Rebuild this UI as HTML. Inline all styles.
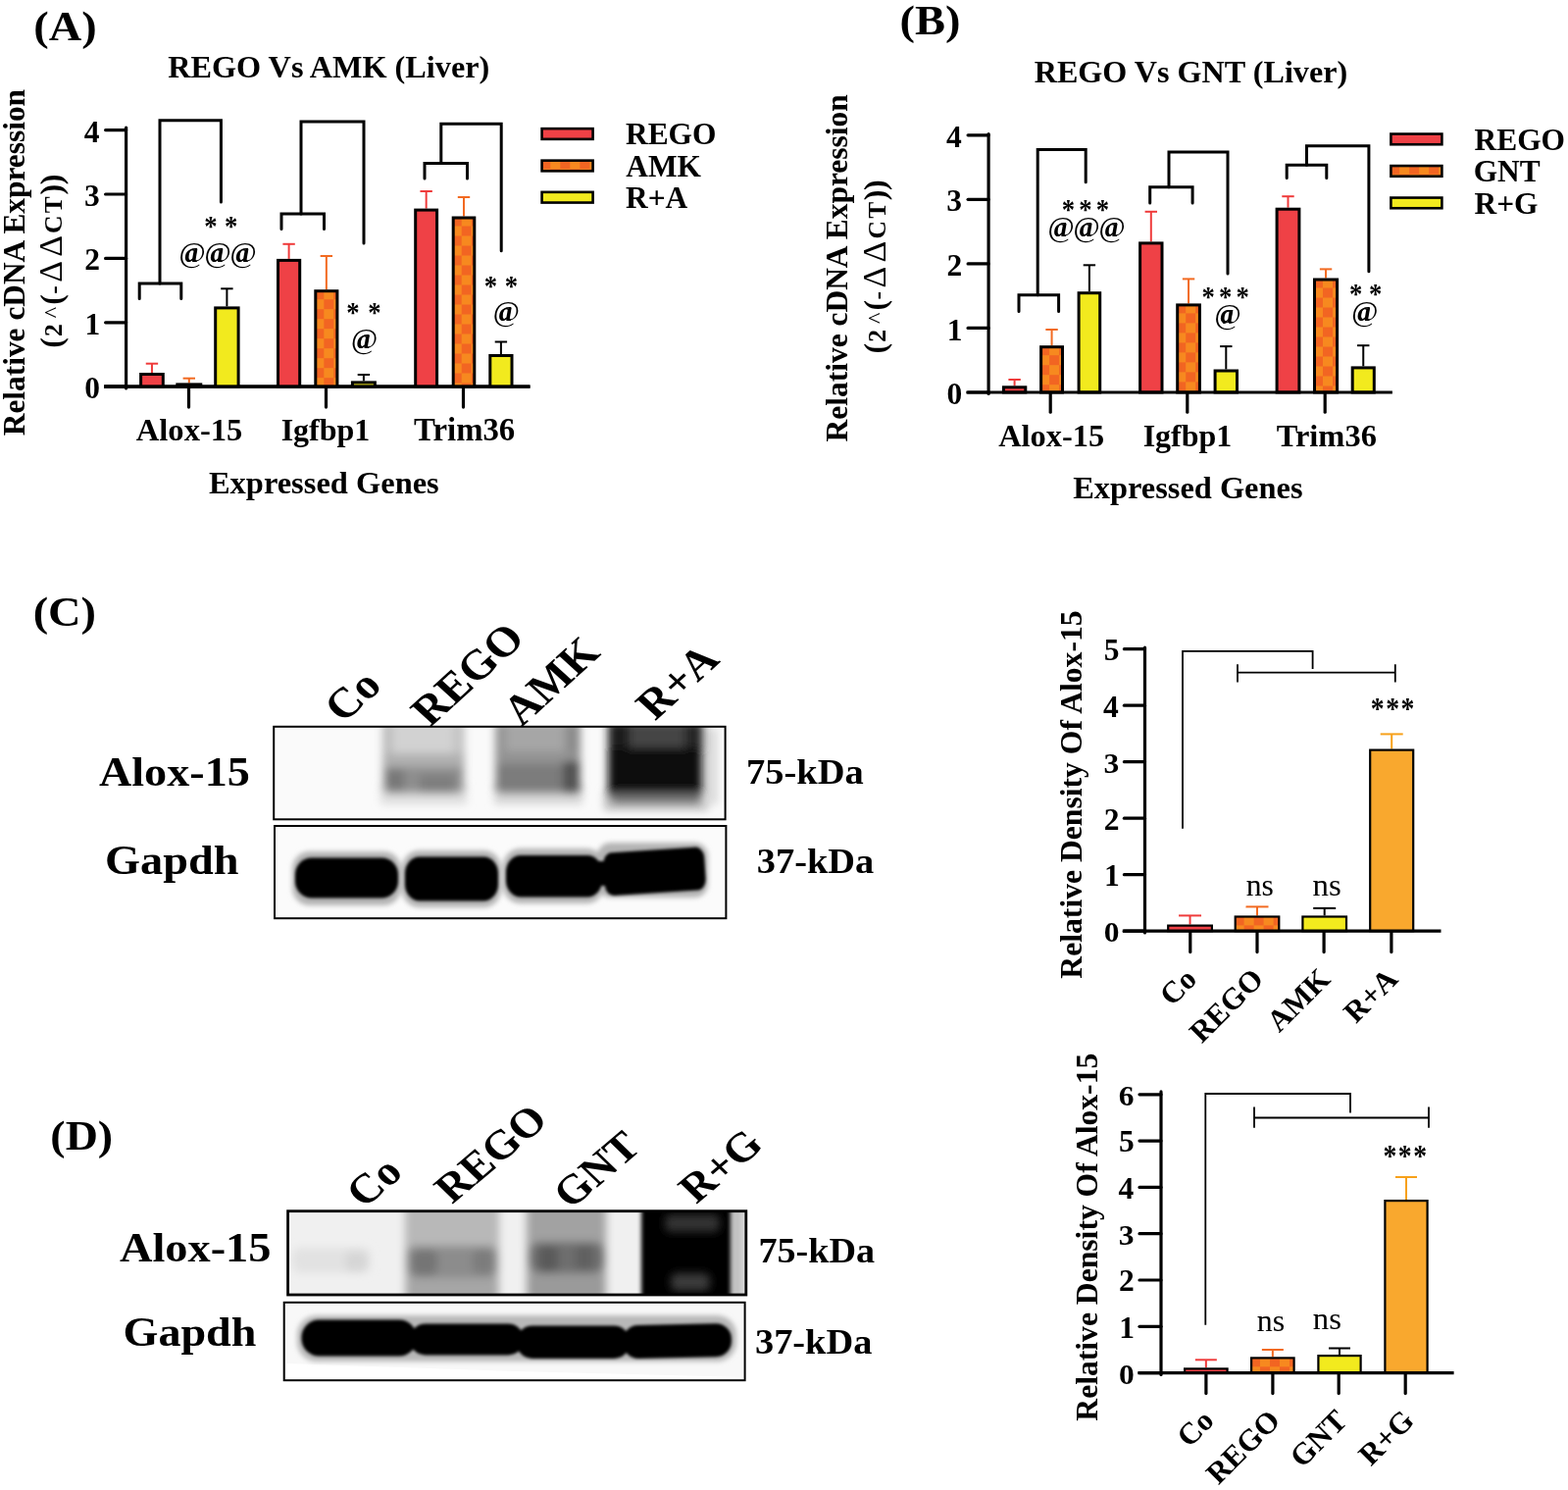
<!DOCTYPE html>
<html><head><meta charset="utf-8"><title>Figure</title>
<style>
html,body{margin:0;padding:0;background:#fff;}
svg{display:block;}
text{font-family:"Liberation Serif","Times New Roman",serif;}
</style></head><body>
<svg width="1599" height="1519" viewBox="0 0 1599 1519">
<defs>
<pattern id="chk" x="0" y="0" width="20" height="20" patternUnits="userSpaceOnUse"><rect width="20" height="20" fill="#f7891f"/><rect width="10" height="10" fill="#f26522"/><rect x="10" y="10" width="10" height="10" fill="#f26522"/></pattern>
<filter id="b0" x="-30%" y="-30%" width="160%" height="160%"><feGaussianBlur stdDeviation="2.0"/></filter>
<filter id="b1" x="-30%" y="-30%" width="160%" height="160%"><feGaussianBlur stdDeviation="2.8"/></filter>
<filter id="b2" x="-30%" y="-30%" width="160%" height="160%"><feGaussianBlur stdDeviation="4.0"/></filter>
<filter id="b3" x="-30%" y="-30%" width="160%" height="160%"><feGaussianBlur stdDeviation="1.4"/></filter>
<filter id="b4" x="-30%" y="-30%" width="160%" height="160%"><feGaussianBlur stdDeviation="4.5"/></filter>
</defs>
<rect width="1599" height="1519" fill="#fff"/>
<line x1="128.60" y1="130.20" x2="128.60" y2="396.00" stroke="#000" stroke-width="3.20" stroke-linecap="round"/>
<line x1="107.60" y1="394.20" x2="128.60" y2="394.20" stroke="#000" stroke-width="3.20" stroke-linecap="round"/>
<line x1="107.60" y1="328.80" x2="128.60" y2="328.80" stroke="#000" stroke-width="3.20" stroke-linecap="round"/>
<line x1="107.60" y1="263.40" x2="128.60" y2="263.40" stroke="#000" stroke-width="3.20" stroke-linecap="round"/>
<line x1="107.60" y1="198.00" x2="128.60" y2="198.00" stroke="#000" stroke-width="3.20" stroke-linecap="round"/>
<line x1="107.60" y1="132.60" x2="128.60" y2="132.60" stroke="#000" stroke-width="3.20" stroke-linecap="round"/>
<line x1="106.00" y1="394.20" x2="540.50" y2="394.20" stroke="#000" stroke-width="3.20" stroke-linecap="butt"/>
<line x1="192.50" y1="394.20" x2="192.50" y2="415.10" stroke="#000" stroke-width="3.20" stroke-linecap="round"/>
<line x1="332.50" y1="394.20" x2="332.50" y2="415.10" stroke="#000" stroke-width="3.20" stroke-linecap="round"/>
<line x1="472.50" y1="394.20" x2="472.50" y2="415.10" stroke="#000" stroke-width="3.20" stroke-linecap="round"/>
<text transform="translate(86.31,405.89) scale(1.0245,1)" font-size="30.75" font-weight="bold" fill="#000">0</text>
<text transform="translate(86.62,340.80) scale(0.9939,1)" font-size="31.69" font-weight="bold" fill="#000">1</text>
<text transform="translate(86.31,275.40) scale(1.0092,1)" font-size="31.21" font-weight="bold" fill="#000">2</text>
<text transform="translate(85.99,209.69) scale(1.0245,1)" font-size="30.75" font-weight="bold" fill="#000">3</text>
<text transform="translate(85.68,144.60) scale(0.9939,1)" font-size="31.69" font-weight="bold" fill="#000">4</text>
<line x1="154.95" y1="380.00" x2="154.95" y2="370.70" stroke="#ef3b3b" stroke-width="2.00" stroke-linecap="butt"/>
<line x1="148.75" y1="370.70" x2="161.15" y2="370.70" stroke="#ef3b3b" stroke-width="2.00" stroke-linecap="butt"/>
<line x1="192.80" y1="390.40" x2="192.80" y2="385.70" stroke="#f26a21" stroke-width="2.00" stroke-linecap="butt"/>
<line x1="186.60" y1="385.70" x2="199.00" y2="385.70" stroke="#f26a21" stroke-width="2.00" stroke-linecap="butt"/>
<line x1="231.40" y1="312.40" x2="231.40" y2="294.30" stroke="#000" stroke-width="2.00" stroke-linecap="butt"/>
<line x1="225.20" y1="294.30" x2="237.60" y2="294.30" stroke="#000" stroke-width="2.00" stroke-linecap="butt"/>
<line x1="294.60" y1="263.90" x2="294.60" y2="248.80" stroke="#ef3b3b" stroke-width="2.00" stroke-linecap="butt"/>
<line x1="288.40" y1="248.80" x2="300.80" y2="248.80" stroke="#ef3b3b" stroke-width="2.00" stroke-linecap="butt"/>
<line x1="332.85" y1="295.20" x2="332.85" y2="261.00" stroke="#f26a21" stroke-width="2.00" stroke-linecap="butt"/>
<line x1="326.65" y1="261.00" x2="339.05" y2="261.00" stroke="#f26a21" stroke-width="2.00" stroke-linecap="butt"/>
<line x1="370.90" y1="388.40" x2="370.90" y2="382.00" stroke="#000" stroke-width="2.00" stroke-linecap="butt"/>
<line x1="364.70" y1="382.00" x2="377.10" y2="382.00" stroke="#000" stroke-width="2.00" stroke-linecap="butt"/>
<line x1="434.65" y1="212.60" x2="434.65" y2="195.00" stroke="#ef3b3b" stroke-width="2.00" stroke-linecap="butt"/>
<line x1="428.45" y1="195.00" x2="440.85" y2="195.00" stroke="#ef3b3b" stroke-width="2.00" stroke-linecap="butt"/>
<line x1="473.00" y1="220.50" x2="473.00" y2="201.00" stroke="#f26a21" stroke-width="2.00" stroke-linecap="butt"/>
<line x1="466.80" y1="201.00" x2="479.20" y2="201.00" stroke="#f26a21" stroke-width="2.00" stroke-linecap="butt"/>
<line x1="510.90" y1="361.00" x2="510.90" y2="348.50" stroke="#000" stroke-width="2.00" stroke-linecap="butt"/>
<line x1="504.70" y1="348.50" x2="517.10" y2="348.50" stroke="#000" stroke-width="2.00" stroke-linecap="butt"/>
<rect x="143.60" y="381.50" width="22.70" height="12.70" fill="#ef4146" stroke="#000" stroke-width="3.00"/>
<pattern id="ck1" x="179.30" y="390.40" width="20" height="20" patternUnits="userSpaceOnUse"><rect width="20" height="20" fill="#f7891f"/><rect width="10" height="10" fill="#f26522"/><rect x="10" y="10" width="10" height="10" fill="#f26522"/></pattern>
<rect x="180.80" y="391.90" width="24.00" height="2.30" fill="url(#ck1)" stroke="#000" stroke-width="3.00"/>
<rect x="219.70" y="313.90" width="23.40" height="80.30" fill="#f2ea1e" stroke="#000" stroke-width="3.00"/>
<rect x="283.50" y="265.40" width="22.20" height="128.80" fill="#ef4146" stroke="#000" stroke-width="3.00"/>
<pattern id="ck2" x="320.30" y="295.20" width="20" height="20" patternUnits="userSpaceOnUse"><rect width="20" height="20" fill="#f7891f"/><rect width="10" height="10" fill="#f26522"/><rect x="10" y="10" width="10" height="10" fill="#f26522"/></pattern>
<rect x="321.80" y="296.70" width="22.10" height="97.50" fill="url(#ck2)" stroke="#000" stroke-width="3.00"/>
<rect x="359.40" y="389.90" width="23.00" height="4.30" fill="#f2ea1e" stroke="#000" stroke-width="3.00"/>
<rect x="423.70" y="214.10" width="21.90" height="180.10" fill="#ef4146" stroke="#000" stroke-width="3.00"/>
<pattern id="ck3" x="460.70" y="220.50" width="20" height="20" patternUnits="userSpaceOnUse"><rect width="20" height="20" fill="#f7891f"/><rect width="10" height="10" fill="#f26522"/><rect x="10" y="10" width="10" height="10" fill="#f26522"/></pattern>
<rect x="462.20" y="222.00" width="21.60" height="172.20" fill="url(#ck3)" stroke="#000" stroke-width="3.00"/>
<rect x="499.80" y="362.50" width="22.20" height="31.70" fill="#f2ea1e" stroke="#000" stroke-width="3.00"/>
<line x1="106.00" y1="394.20" x2="540.50" y2="394.20" stroke="#000" stroke-width="3.20" stroke-linecap="butt"/>
<path d="M142.2,304.5 V289.0 H184.8 V304.5" fill="none" stroke="#000" stroke-width="3.00" stroke-linecap="round" stroke-linejoin="miter"/>
<path d="M163.0,289.0 V122.7 H225.4 V206.0" fill="none" stroke="#000" stroke-width="3.00" stroke-linecap="round" stroke-linejoin="miter"/>
<path d="M287.0,233.5 V218.0 H330.5 V233.5" fill="none" stroke="#000" stroke-width="3.00" stroke-linecap="round" stroke-linejoin="miter"/>
<path d="M307.0,218.0 V124.0 H371.0 V247.9" fill="none" stroke="#000" stroke-width="3.00" stroke-linecap="round" stroke-linejoin="miter"/>
<path d="M433.0,181.9 V166.5 H476.5 V181.9" fill="none" stroke="#000" stroke-width="3.00" stroke-linecap="round" stroke-linejoin="miter"/>
<path d="M449.8,166.5 V126.3 H511.2 V255.7" fill="none" stroke="#000" stroke-width="3.00" stroke-linecap="round" stroke-linejoin="miter"/>
<text transform="translate(0,240.46) scale(0.9048,1)" font-size="29.47" font-weight="bold"><tspan x="230.26">*</tspan><tspan x="253.03">*</tspan></text>
<text y="267.00" font-size="29.50"><tspan x="182.40">@</tspan><tspan x="208.40">@</tspan><tspan x="234.40">@</tspan></text>
<text y="266.60" font-size="27.00" font-weight="bold" font-style="italic" text-anchor="middle"><tspan x="195.20">a</tspan><tspan x="221.20">a</tspan><tspan x="247.20">a</tspan></text>
<text transform="translate(0,328.16) scale(0.9048,1)" font-size="29.47" font-weight="bold"><tspan x="390.53">*</tspan><tspan x="414.62">*</tspan></text>
<text y="355.00" font-size="29.50"><tspan x="357.90">@</tspan></text>
<text y="354.60" font-size="27.00" font-weight="bold" font-style="italic" text-anchor="middle"><tspan x="370.70">a</tspan></text>
<text transform="translate(0,301.16) scale(0.9048,1)" font-size="29.47" font-weight="bold"><tspan x="545.82">*</tspan><tspan x="568.92">*</tspan></text>
<text y="326.90" font-size="29.50"><tspan x="502.70">@</tspan></text>
<text y="326.50" font-size="27.00" font-weight="bold" font-style="italic" text-anchor="middle"><tspan x="515.50">a</tspan></text>
<rect x="552.60" y="131.15" width="52.00" height="10.70" fill="#ef4146" stroke="#000" stroke-width="2.6"/>
<text x="637.97" y="147.20" font-size="31.40" font-weight="bold" fill="#000">REGO</text>
<pattern id="ck4" x="551.30" y="162.35" width="20" height="20" patternUnits="userSpaceOnUse"><rect width="20" height="20" fill="#f7891f"/><rect width="10" height="10" fill="#f26522"/><rect x="10" y="10" width="10" height="10" fill="#f26522"/></pattern>
<rect x="552.60" y="163.65" width="52.00" height="10.70" fill="url(#ck4)" stroke="#000" stroke-width="2.6"/>
<text x="638.29" y="179.70" font-size="31.40" font-weight="bold" fill="#000">AMK</text>
<rect x="552.60" y="195.85" width="52.00" height="10.70" fill="#f2ea1e" stroke="#000" stroke-width="2.6"/>
<text x="637.97" y="211.90" font-size="31.40" font-weight="bold" fill="#000">R+A</text>
<text transform="translate(34.24,40.70) scale(1.0921,1)" font-size="42.50" font-weight="bold" fill="#000">(A)</text>
<text x="171.16" y="79.30" font-size="32.25" font-weight="bold" fill="#000">REGO Vs AMK (Liver)</text>
<text x="138.77" y="449.30" font-size="32.59" font-weight="bold" fill="#000">Alox-15</text>
<text x="286.64" y="449.30" font-size="32.00" font-weight="bold" fill="#000">Igfbp1</text>
<text x="422.07" y="449.30" font-size="32.77" font-weight="bold" fill="#000">Trim36</text>
<text x="212.95" y="503.40" font-size="32.48" font-weight="bold" fill="#000">Expressed Genes</text>
<text transform="translate(25.20,444.23) rotate(-90)" font-size="31.38" font-weight="bold">Relative cDNA Expression</text>
<text transform="translate(62.60,0) rotate(-90)"><tspan x="-354.79" y="0.00" font-size="32.00" font-weight="bold">(</tspan><tspan x="-343.02" y="0.00" font-size="25.50" font-weight="bold">2</tspan><tspan x="-324.19" y="-2.00" font-size="24.00" font-weight="normal">^</tspan><tspan x="-310.84" y="0.00" font-size="32.00" font-weight="bold">(</tspan><tspan x="-299.78" y="0.00" font-size="25.50" font-weight="bold">-</tspan><tspan x="-287.70" y="0.00" font-size="34.00" font-weight="normal">Δ</tspan><tspan x="-261.85" y="0.00" font-size="34.00" font-weight="normal">Δ</tspan><tspan x="-237.93" y="0.00" font-size="25.50" font-weight="bold">C</tspan><tspan x="-217.16" y="0.00" font-size="25.50" font-weight="bold">T</tspan><tspan x="-198.52" y="0.00" font-size="32.00" font-weight="bold">)</tspan><tspan x="-188.32" y="0.00" font-size="32.00" font-weight="bold">)</tspan></text>
<line x1="1008.10" y1="136.60" x2="1008.10" y2="401.50" stroke="#000" stroke-width="3.20" stroke-linecap="round"/>
<line x1="987.10" y1="400.00" x2="1008.10" y2="400.00" stroke="#000" stroke-width="3.20" stroke-linecap="round"/>
<line x1="987.10" y1="334.45" x2="1008.10" y2="334.45" stroke="#000" stroke-width="3.20" stroke-linecap="round"/>
<line x1="987.10" y1="268.90" x2="1008.10" y2="268.90" stroke="#000" stroke-width="3.20" stroke-linecap="round"/>
<line x1="987.10" y1="203.35" x2="1008.10" y2="203.35" stroke="#000" stroke-width="3.20" stroke-linecap="round"/>
<line x1="987.10" y1="137.80" x2="1008.10" y2="137.80" stroke="#000" stroke-width="3.20" stroke-linecap="round"/>
<line x1="1071.20" y1="400.00" x2="1071.20" y2="420.20" stroke="#000" stroke-width="3.20" stroke-linecap="round"/>
<line x1="1210.80" y1="400.00" x2="1210.80" y2="420.20" stroke="#000" stroke-width="3.20" stroke-linecap="round"/>
<line x1="1351.20" y1="400.00" x2="1351.20" y2="420.20" stroke="#000" stroke-width="3.20" stroke-linecap="round"/>
<text transform="translate(965.51,411.79) scale(1.0245,1)" font-size="30.75" font-weight="bold" fill="#000">0</text>
<text transform="translate(965.83,346.55) scale(0.9939,1)" font-size="31.69" font-weight="bold" fill="#000">1</text>
<text transform="translate(965.51,281.00) scale(1.0092,1)" font-size="31.21" font-weight="bold" fill="#000">2</text>
<text transform="translate(965.20,215.14) scale(1.0245,1)" font-size="30.75" font-weight="bold" fill="#000">3</text>
<text transform="translate(964.88,149.90) scale(0.9939,1)" font-size="31.69" font-weight="bold" fill="#000">4</text>
<line x1="1034.60" y1="393.30" x2="1034.60" y2="387.00" stroke="#ef3b3b" stroke-width="2.00" stroke-linecap="butt"/>
<line x1="1028.40" y1="387.00" x2="1040.80" y2="387.00" stroke="#ef3b3b" stroke-width="2.00" stroke-linecap="butt"/>
<line x1="1072.55" y1="352.20" x2="1072.55" y2="336.00" stroke="#f26a21" stroke-width="2.00" stroke-linecap="butt"/>
<line x1="1066.35" y1="336.00" x2="1078.75" y2="336.00" stroke="#f26a21" stroke-width="2.00" stroke-linecap="butt"/>
<line x1="1110.90" y1="297.20" x2="1110.90" y2="270.30" stroke="#000" stroke-width="2.00" stroke-linecap="butt"/>
<line x1="1104.70" y1="270.30" x2="1117.10" y2="270.30" stroke="#000" stroke-width="2.00" stroke-linecap="butt"/>
<line x1="1173.80" y1="246.40" x2="1173.80" y2="215.80" stroke="#ef3b3b" stroke-width="2.00" stroke-linecap="butt"/>
<line x1="1167.60" y1="215.80" x2="1180.00" y2="215.80" stroke="#ef3b3b" stroke-width="2.00" stroke-linecap="butt"/>
<line x1="1212.05" y1="309.40" x2="1212.05" y2="284.40" stroke="#f26a21" stroke-width="2.00" stroke-linecap="butt"/>
<line x1="1205.85" y1="284.40" x2="1218.25" y2="284.40" stroke="#f26a21" stroke-width="2.00" stroke-linecap="butt"/>
<line x1="1250.30" y1="376.50" x2="1250.30" y2="353.10" stroke="#000" stroke-width="2.00" stroke-linecap="butt"/>
<line x1="1244.10" y1="353.10" x2="1256.50" y2="353.10" stroke="#000" stroke-width="2.00" stroke-linecap="butt"/>
<line x1="1313.50" y1="211.70" x2="1313.50" y2="200.20" stroke="#ef3b3b" stroke-width="2.00" stroke-linecap="butt"/>
<line x1="1307.30" y1="200.20" x2="1319.70" y2="200.20" stroke="#ef3b3b" stroke-width="2.00" stroke-linecap="butt"/>
<line x1="1352.05" y1="283.50" x2="1352.05" y2="274.40" stroke="#f26a21" stroke-width="2.00" stroke-linecap="butt"/>
<line x1="1345.85" y1="274.40" x2="1358.25" y2="274.40" stroke="#f26a21" stroke-width="2.00" stroke-linecap="butt"/>
<line x1="1390.25" y1="373.40" x2="1390.25" y2="352.20" stroke="#000" stroke-width="2.00" stroke-linecap="butt"/>
<line x1="1384.05" y1="352.20" x2="1396.45" y2="352.20" stroke="#000" stroke-width="2.00" stroke-linecap="butt"/>
<rect x="1023.40" y="394.80" width="22.40" height="5.20" fill="#ef4146" stroke="#000" stroke-width="3.00"/>
<pattern id="ck5" x="1060.10" y="352.20" width="20" height="20" patternUnits="userSpaceOnUse"><rect width="20" height="20" fill="#f7891f"/><rect width="10" height="10" fill="#f26522"/><rect x="10" y="10" width="10" height="10" fill="#f26522"/></pattern>
<rect x="1061.60" y="353.70" width="21.90" height="46.30" fill="url(#ck5)" stroke="#000" stroke-width="3.00"/>
<rect x="1100.10" y="298.70" width="21.60" height="101.30" fill="#f2ea1e" stroke="#000" stroke-width="3.00"/>
<rect x="1162.60" y="247.90" width="22.40" height="152.10" fill="#ef4146" stroke="#000" stroke-width="3.00"/>
<pattern id="ck6" x="1199.20" y="309.40" width="20" height="20" patternUnits="userSpaceOnUse"><rect width="20" height="20" fill="#f7891f"/><rect width="10" height="10" fill="#f26522"/><rect x="10" y="10" width="10" height="10" fill="#f26522"/></pattern>
<rect x="1200.70" y="310.90" width="22.70" height="89.10" fill="url(#ck6)" stroke="#000" stroke-width="3.00"/>
<rect x="1239.10" y="378.00" width="22.40" height="22.00" fill="#f2ea1e" stroke="#000" stroke-width="3.00"/>
<rect x="1302.10" y="213.20" width="22.80" height="186.80" fill="#ef4146" stroke="#000" stroke-width="3.00"/>
<pattern id="ck7" x="1339.00" y="283.50" width="20" height="20" patternUnits="userSpaceOnUse"><rect width="20" height="20" fill="#f7891f"/><rect width="10" height="10" fill="#f26522"/><rect x="10" y="10" width="10" height="10" fill="#f26522"/></pattern>
<rect x="1340.50" y="285.00" width="23.10" height="115.00" fill="url(#ck7)" stroke="#000" stroke-width="3.00"/>
<rect x="1379.20" y="374.90" width="22.10" height="25.10" fill="#f2ea1e" stroke="#000" stroke-width="3.00"/>
<line x1="985.50" y1="400.00" x2="1419.90" y2="400.00" stroke="#000" stroke-width="3.20" stroke-linecap="butt"/>
<path d="M1039.0,317.4 V300.7 H1079.6 V317.4" fill="none" stroke="#000" stroke-width="3.00" stroke-linecap="round" stroke-linejoin="miter"/>
<path d="M1058.2,300.7 V152.4 H1107.2 V185.7" fill="none" stroke="#000" stroke-width="3.00" stroke-linecap="round" stroke-linejoin="miter"/>
<path d="M1172.7,207.1 V190.8 H1216.1 V207.1" fill="none" stroke="#000" stroke-width="3.00" stroke-linecap="round" stroke-linejoin="miter"/>
<path d="M1192.0,190.8 V154.9 H1252.0 V278.9" fill="none" stroke="#000" stroke-width="3.00" stroke-linecap="round" stroke-linejoin="miter"/>
<path d="M1312.2,181.5 V168.3 H1352.8 V181.5" fill="none" stroke="#000" stroke-width="3.00" stroke-linecap="round" stroke-linejoin="miter"/>
<path d="M1332.5,168.3 V148.7 H1395.9 V276.7" fill="none" stroke="#000" stroke-width="3.00" stroke-linecap="round" stroke-linejoin="miter"/>
<text transform="translate(0,223.36) scale(0.9048,1)" font-size="29.47" font-weight="bold"><tspan x="1196.82">*</tspan><tspan x="1216.05">*</tspan><tspan x="1235.28">*</tspan></text>
<text y="241.20" font-size="29.50"><tspan x="1068.60">@</tspan><tspan x="1094.60">@</tspan><tspan x="1120.60">@</tspan></text>
<text y="240.80" font-size="27.00" font-weight="bold" font-style="italic" text-anchor="middle"><tspan x="1081.40">a</tspan><tspan x="1107.40">a</tspan><tspan x="1133.40">a</tspan></text>
<text transform="translate(0,312.06) scale(0.9048,1)" font-size="29.47" font-weight="bold"><tspan x="1354.32">*</tspan><tspan x="1373.77">*</tspan><tspan x="1393.22">*</tspan></text>
<text y="329.70" font-size="29.50"><tspan x="1238.40">@</tspan></text>
<text y="329.30" font-size="27.00" font-weight="bold" font-style="italic" text-anchor="middle"><tspan x="1251.20">a</tspan></text>
<text transform="translate(0,308.96) scale(0.9048,1)" font-size="29.47" font-weight="bold"><tspan x="1520.66">*</tspan><tspan x="1542.98">*</tspan></text>
<text y="327.20" font-size="29.50"><tspan x="1378.20">@</tspan></text>
<text y="326.80" font-size="27.00" font-weight="bold" font-style="italic" text-anchor="middle"><tspan x="1391.00">a</tspan></text>
<rect x="1418.40" y="136.55" width="52.00" height="10.70" fill="#ef4146" stroke="#000" stroke-width="2.6"/>
<text x="1503.57" y="152.60" font-size="31.40" font-weight="bold" fill="#000">REGO</text>
<pattern id="ck8" x="1417.10" y="167.75" width="20" height="20" patternUnits="userSpaceOnUse"><rect width="20" height="20" fill="#f7891f"/><rect width="10" height="10" fill="#f26522"/><rect x="10" y="10" width="10" height="10" fill="#f26522"/></pattern>
<rect x="1418.40" y="169.05" width="52.00" height="10.70" fill="url(#ck8)" stroke="#000" stroke-width="2.6"/>
<text x="1502.63" y="185.10" font-size="31.40" font-weight="bold" fill="#000">GNT</text>
<rect x="1418.40" y="201.55" width="52.00" height="10.70" fill="#f2ea1e" stroke="#000" stroke-width="2.6"/>
<text x="1503.57" y="217.60" font-size="31.40" font-weight="bold" fill="#000">R+G</text>
<text transform="translate(917.54,34.50) scale(1.0936,1)" font-size="42.50" font-weight="bold" fill="#000">(B)</text>
<text x="1054.66" y="83.70" font-size="32.17" font-weight="bold" fill="#000">REGO Vs GNT (Liver)</text>
<text x="1018.18" y="454.70" font-size="32.41" font-weight="bold" fill="#000">Alox-15</text>
<text x="1165.64" y="454.70" font-size="31.96" font-weight="bold" fill="#000">Igfbp1</text>
<text x="1301.68" y="454.70" font-size="32.48" font-weight="bold" fill="#000">Trim36</text>
<text x="1094.15" y="507.60" font-size="32.41" font-weight="bold" fill="#000">Expressed Genes</text>
<text transform="translate(863.80,450.43) rotate(-90)" font-size="31.46" font-weight="bold">Relative cDNA Expression</text>
<text transform="translate(902.50,0) rotate(-90)"><tspan x="-360.49" y="0.00" font-size="32.00" font-weight="bold">(</tspan><tspan x="-348.73" y="0.00" font-size="25.50" font-weight="bold">2</tspan><tspan x="-329.89" y="-2.00" font-size="24.00" font-weight="normal">^</tspan><tspan x="-316.54" y="0.00" font-size="32.00" font-weight="bold">(</tspan><tspan x="-305.48" y="0.00" font-size="25.50" font-weight="bold">-</tspan><tspan x="-293.40" y="0.00" font-size="34.00" font-weight="normal">Δ</tspan><tspan x="-267.55" y="0.00" font-size="34.00" font-weight="normal">Δ</tspan><tspan x="-243.62" y="0.00" font-size="25.50" font-weight="bold">C</tspan><tspan x="-222.86" y="0.00" font-size="25.50" font-weight="bold">T</tspan><tspan x="-204.22" y="0.00" font-size="32.00" font-weight="bold">)</tspan><tspan x="-194.02" y="0.00" font-size="32.00" font-weight="bold">)</tspan></text>
<line x1="1167.50" y1="660.10" x2="1167.50" y2="951.00" stroke="#000" stroke-width="3.20" stroke-linecap="round"/>
<line x1="1146.40" y1="949.20" x2="1167.50" y2="949.20" stroke="#000" stroke-width="3.20" stroke-linecap="round"/>
<line x1="1146.40" y1="891.70" x2="1167.50" y2="891.70" stroke="#000" stroke-width="3.20" stroke-linecap="round"/>
<line x1="1146.40" y1="834.20" x2="1167.50" y2="834.20" stroke="#000" stroke-width="3.20" stroke-linecap="round"/>
<line x1="1146.40" y1="776.70" x2="1167.50" y2="776.70" stroke="#000" stroke-width="3.20" stroke-linecap="round"/>
<line x1="1146.40" y1="719.20" x2="1167.50" y2="719.20" stroke="#000" stroke-width="3.20" stroke-linecap="round"/>
<line x1="1146.40" y1="661.70" x2="1167.50" y2="661.70" stroke="#000" stroke-width="3.20" stroke-linecap="round"/>
<text transform="translate(1125.71,960.30) scale(1.0346,1)" font-size="30.45" font-weight="bold" fill="#000">0</text>
<text transform="translate(1126.03,903.10) scale(1.0037,1)" font-size="31.38" font-weight="bold" fill="#000">1</text>
<text transform="translate(1125.71,845.60) scale(1.0191,1)" font-size="30.91" font-weight="bold" fill="#000">2</text>
<text transform="translate(1125.39,787.80) scale(1.0346,1)" font-size="30.45" font-weight="bold" fill="#000">3</text>
<text transform="translate(1125.08,730.60) scale(1.0037,1)" font-size="31.38" font-weight="bold" fill="#000">4</text>
<text transform="translate(1125.71,672.79) scale(1.0191,1)" font-size="30.91" font-weight="bold" fill="#000">5</text>
<line x1="1213.80" y1="949.20" x2="1213.80" y2="970.60" stroke="#000" stroke-width="3.20" stroke-linecap="round"/>
<line x1="1282.00" y1="949.20" x2="1282.00" y2="970.60" stroke="#000" stroke-width="3.20" stroke-linecap="round"/>
<line x1="1350.10" y1="949.20" x2="1350.10" y2="970.60" stroke="#000" stroke-width="3.20" stroke-linecap="round"/>
<line x1="1418.90" y1="949.20" x2="1418.90" y2="970.60" stroke="#000" stroke-width="3.20" stroke-linecap="round"/>
<line x1="1213.55" y1="942.50" x2="1213.55" y2="933.40" stroke="#ef3b3b" stroke-width="2.00" stroke-linecap="butt"/>
<line x1="1202.05" y1="933.40" x2="1225.05" y2="933.40" stroke="#ef3b3b" stroke-width="2.00" stroke-linecap="butt"/>
<line x1="1282.00" y1="933.40" x2="1282.00" y2="924.40" stroke="#f26a21" stroke-width="2.00" stroke-linecap="butt"/>
<line x1="1270.50" y1="924.40" x2="1293.50" y2="924.40" stroke="#f26a21" stroke-width="2.00" stroke-linecap="butt"/>
<line x1="1350.70" y1="933.40" x2="1350.70" y2="925.90" stroke="#000" stroke-width="2.00" stroke-linecap="butt"/>
<line x1="1339.20" y1="925.90" x2="1362.20" y2="925.90" stroke="#000" stroke-width="2.00" stroke-linecap="butt"/>
<line x1="1419.20" y1="763.50" x2="1419.20" y2="748.40" stroke="#f7a11a" stroke-width="2.00" stroke-linecap="butt"/>
<line x1="1407.70" y1="748.40" x2="1430.70" y2="748.40" stroke="#f7a11a" stroke-width="2.00" stroke-linecap="butt"/>
<rect x="1191.20" y="943.60" width="44.70" height="5.60" fill="#ef4146" stroke="#000" stroke-width="2.20"/>
<pattern id="ck9" x="1258.60" y="933.40" width="20" height="20" patternUnits="userSpaceOnUse"><rect width="20" height="20" fill="#f7891f"/><rect width="10" height="10" fill="#f26522"/><rect x="10" y="10" width="10" height="10" fill="#f26522"/></pattern>
<rect x="1259.70" y="934.50" width="44.60" height="14.70" fill="url(#ck9)" stroke="#000" stroke-width="2.20"/>
<rect x="1328.40" y="934.50" width="44.60" height="14.70" fill="#f2ea1e" stroke="#000" stroke-width="2.20"/>
<rect x="1397.20" y="764.60" width="44.00" height="184.60" fill="#f9a82e" stroke="#000" stroke-width="2.20"/>
<line x1="1144.80" y1="949.20" x2="1469.50" y2="949.20" stroke="#000" stroke-width="3.20" stroke-linecap="butt"/>
<path d="M1206,844.7 V663.9 H1338.6 V682" fill="none" stroke="#000" stroke-width="1.80" stroke-linecap="butt" stroke-linejoin="miter"/>
<path d="M1262,685.7 H1422.8 M1262,677.2 V695.4 M1422.8,677.2 V695.4" fill="none" stroke="#000" stroke-width="1.80" stroke-linecap="butt" stroke-linejoin="miter"/>
<text transform="translate(0,732.54) scale(0.9048,1)" font-size="30.53" font-weight="bold"><tspan x="1544.82">*</tspan><tspan x="1561.84">*</tspan><tspan x="1578.75">*</tspan></text>
<text transform="translate(1270.77,913.20) scale(0.9798,1)" font-size="32.34" font-weight="normal" fill="#000">ns</text>
<text transform="translate(1338.54,913.20) scale(1.0170,1)" font-size="32.34" font-weight="normal" fill="#000">ns</text>
<text transform="translate(1102.90,997.63) rotate(-90)" font-size="31.65" font-weight="bold">Relative Density Of Alox-15</text>
<line x1="1184.00" y1="1112.90" x2="1184.00" y2="1401.50" stroke="#000" stroke-width="3.20" stroke-linecap="round"/>
<line x1="1162.00" y1="1399.60" x2="1184.00" y2="1399.60" stroke="#000" stroke-width="3.20" stroke-linecap="round"/>
<line x1="1162.00" y1="1352.30" x2="1184.00" y2="1352.30" stroke="#000" stroke-width="3.20" stroke-linecap="round"/>
<line x1="1162.00" y1="1305.00" x2="1184.00" y2="1305.00" stroke="#000" stroke-width="3.20" stroke-linecap="round"/>
<line x1="1162.00" y1="1257.70" x2="1184.00" y2="1257.70" stroke="#000" stroke-width="3.20" stroke-linecap="round"/>
<line x1="1162.00" y1="1210.40" x2="1184.00" y2="1210.40" stroke="#000" stroke-width="3.20" stroke-linecap="round"/>
<line x1="1162.00" y1="1163.10" x2="1184.00" y2="1163.10" stroke="#000" stroke-width="3.20" stroke-linecap="round"/>
<line x1="1162.00" y1="1115.80" x2="1184.00" y2="1115.80" stroke="#000" stroke-width="3.20" stroke-linecap="round"/>
<text transform="translate(1141.01,1410.70) scale(1.0346,1)" font-size="30.45" font-weight="bold" fill="#000">0</text>
<text transform="translate(1141.33,1363.70) scale(1.0037,1)" font-size="31.38" font-weight="bold" fill="#000">1</text>
<text transform="translate(1141.01,1316.40) scale(1.0191,1)" font-size="30.91" font-weight="bold" fill="#000">2</text>
<text transform="translate(1140.69,1268.80) scale(1.0346,1)" font-size="30.45" font-weight="bold" fill="#000">3</text>
<text transform="translate(1140.38,1221.80) scale(1.0037,1)" font-size="31.38" font-weight="bold" fill="#000">4</text>
<text transform="translate(1141.01,1174.19) scale(1.0191,1)" font-size="30.91" font-weight="bold" fill="#000">5</text>
<text transform="translate(1140.70,1126.90) scale(1.0346,1)" font-size="30.45" font-weight="bold" fill="#000">6</text>
<line x1="1229.90" y1="1399.60" x2="1229.90" y2="1420.60" stroke="#000" stroke-width="3.20" stroke-linecap="round"/>
<line x1="1297.90" y1="1399.60" x2="1297.90" y2="1420.60" stroke="#000" stroke-width="3.20" stroke-linecap="round"/>
<line x1="1365.20" y1="1399.60" x2="1365.20" y2="1420.60" stroke="#000" stroke-width="3.20" stroke-linecap="round"/>
<line x1="1433.20" y1="1399.60" x2="1433.20" y2="1420.60" stroke="#000" stroke-width="3.20" stroke-linecap="round"/>
<line x1="1229.85" y1="1394.30" x2="1229.85" y2="1386.30" stroke="#ef3b3b" stroke-width="2.00" stroke-linecap="butt"/>
<line x1="1218.85" y1="1386.30" x2="1240.85" y2="1386.30" stroke="#ef3b3b" stroke-width="2.00" stroke-linecap="butt"/>
<line x1="1297.85" y1="1383.30" x2="1297.85" y2="1376.00" stroke="#f26a21" stroke-width="2.00" stroke-linecap="butt"/>
<line x1="1286.85" y1="1376.00" x2="1308.85" y2="1376.00" stroke="#f26a21" stroke-width="2.00" stroke-linecap="butt"/>
<line x1="1366.00" y1="1381.00" x2="1366.00" y2="1374.50" stroke="#000" stroke-width="2.00" stroke-linecap="butt"/>
<line x1="1355.00" y1="1374.50" x2="1377.00" y2="1374.50" stroke="#000" stroke-width="2.00" stroke-linecap="butt"/>
<line x1="1434.00" y1="1223.00" x2="1434.00" y2="1200.00" stroke="#f7a11a" stroke-width="2.00" stroke-linecap="butt"/>
<line x1="1423.00" y1="1200.00" x2="1445.00" y2="1200.00" stroke="#f7a11a" stroke-width="2.00" stroke-linecap="butt"/>
<rect x="1208.10" y="1395.40" width="43.50" height="4.20" fill="#ef4146" stroke="#000" stroke-width="2.20"/>
<pattern id="ck10" x="1275.00" y="1383.30" width="20" height="20" patternUnits="userSpaceOnUse"><rect width="20" height="20" fill="#f7891f"/><rect width="10" height="10" fill="#f26522"/><rect x="10" y="10" width="10" height="10" fill="#f26522"/></pattern>
<rect x="1276.10" y="1384.40" width="43.50" height="15.20" fill="url(#ck10)" stroke="#000" stroke-width="2.20"/>
<rect x="1344.40" y="1382.10" width="43.20" height="17.50" fill="#f2ea1e" stroke="#000" stroke-width="2.20"/>
<rect x="1412.40" y="1224.10" width="43.20" height="175.50" fill="#f9a82e" stroke="#000" stroke-width="2.20"/>
<line x1="1160.40" y1="1399.60" x2="1482.60" y2="1399.60" stroke="#000" stroke-width="3.20" stroke-linecap="butt"/>
<path d="M1229.3,1350.8 V1115 H1377 V1134.4" fill="none" stroke="#000" stroke-width="1.80" stroke-linecap="butt" stroke-linejoin="miter"/>
<path d="M1279,1139.5 H1457 M1279,1128.5 V1149.8 M1457,1128.5 V1149.8" fill="none" stroke="#000" stroke-width="1.80" stroke-linecap="butt" stroke-linejoin="miter"/>
<text transform="translate(0,1189.04) scale(0.9048,1)" font-size="30.53" font-weight="bold"><tspan x="1558.86">*</tspan><tspan x="1575.88">*</tspan><tspan x="1592.79">*</tspan></text>
<text transform="translate(1281.86,1356.70) scale(0.9872,1)" font-size="32.34" font-weight="normal" fill="#000">ns</text>
<text transform="translate(1338.84,1355.20) scale(1.0133,1)" font-size="32.34" font-weight="normal" fill="#000">ns</text>
<text transform="translate(1118.70,1448.63) rotate(-90)" font-size="31.61" font-weight="bold">Relative Density Of Alox-15</text>
<text transform="translate(1222.00,1000.00) rotate(-45.0) scale(1.000,1)" font-size="31.00" font-weight="bold" text-anchor="end">Co</text>
<text transform="translate(1290.00,1000.00) rotate(-45.0) scale(1.000,1)" font-size="31.00" font-weight="bold" text-anchor="end">REGO</text>
<text transform="translate(1358.00,1000.00) rotate(-45.0) scale(1.000,1)" font-size="31.00" font-weight="bold" text-anchor="end">AMK</text>
<text transform="translate(1427.00,1000.00) rotate(-45.0) scale(1.000,1)" font-size="31.00" font-weight="bold" text-anchor="end">R+A</text>
<text transform="translate(1239.50,1450.00) rotate(-45.0) scale(1.000,1)" font-size="31.00" font-weight="bold" text-anchor="end">Co</text>
<text transform="translate(1307.00,1450.00) rotate(-45.0) scale(1.000,1)" font-size="31.00" font-weight="bold" text-anchor="end">REGO</text>
<text transform="translate(1375.50,1450.00) rotate(-45.0) scale(1.000,1)" font-size="31.00" font-weight="bold" text-anchor="end">GNT</text>
<text transform="translate(1443.50,1450.00) rotate(-45.0) scale(1.000,1)" font-size="31.00" font-weight="bold" text-anchor="end">R+G</text>
<clipPath id="cct"><rect x="279.20" y="740.80" width="460.40" height="94.50"/></clipPath>
<g clip-path="url(#cct)">
<rect x="279.00" y="740.00" width="461.00" height="96.00" rx="0.00" ry="0.00" fill="#fafafa" />
<g filter="url(#b2)">
<rect x="388.00" y="800.00" width="88.00" height="20.00" rx="0.00" ry="0.00" fill="#dedede" />
<rect x="504.00" y="800.00" width="90.00" height="20.00" rx="0.00" ry="0.00" fill="#d6d6d6" />
<rect x="616.00" y="806.00" width="106.00" height="20.00" rx="0.00" ry="0.00" fill="#bdbdbd" />
<rect x="716.00" y="742.00" width="16.00" height="78.00" rx="0.00" ry="0.00" fill="#dcdcdc" />
</g>
<g filter="url(#b2)">
<rect x="390.00" y="736.00" width="84.00" height="70.00" rx="0.00" ry="0.00" fill="#d2d2d2" />
<rect x="390.00" y="736.00" width="10.00" height="64.00" rx="0.00" ry="0.00" fill="#bcbcbc" />
<rect x="462.00" y="736.00" width="12.00" height="64.00" rx="0.00" ry="0.00" fill="#c4c4c4" />
<rect x="391.00" y="768.00" width="82.00" height="18.00" rx="0.00" ry="0.00" fill="#b0b0b0" />
<rect x="392.00" y="782.00" width="80.00" height="26.00" rx="4.00" ry="4.00" fill="#8e8e8e" />
<rect x="394.00" y="784.00" width="18.00" height="22.00" rx="3.00" ry="3.00" fill="#787878" />
<rect x="428.00" y="790.00" width="36.00" height="18.00" rx="3.00" ry="3.00" fill="#7e7e7e" />
<rect x="505.00" y="736.00" width="87.00" height="70.00" rx="0.00" ry="0.00" fill="#a6a6a6" />
<rect x="505.00" y="736.00" width="11.00" height="70.00" rx="0.00" ry="0.00" fill="#959595" />
<rect x="576.00" y="736.00" width="16.00" height="70.00" rx="0.00" ry="0.00" fill="#8c8c8c" />
<rect x="506.00" y="766.00" width="85.00" height="18.00" rx="0.00" ry="0.00" fill="#939393" />
<rect x="507.00" y="779.00" width="83.00" height="29.00" rx="4.00" ry="4.00" fill="#7c7c7c" />
<rect x="574.00" y="776.00" width="17.00" height="32.00" rx="3.00" ry="3.00" fill="#525252" />
<rect x="620.00" y="736.00" width="97.00" height="30.00" rx="0.00" ry="0.00" fill="#454545" />
<rect x="620.00" y="736.00" width="22.00" height="34.00" rx="0.00" ry="0.00" fill="#1a1a1a" />
<rect x="698.00" y="736.00" width="18.00" height="34.00" rx="0.00" ry="0.00" fill="#252525" />
<rect x="620.00" y="762.00" width="96.00" height="50.00" rx="6.00" ry="6.00" fill="#070707" />
<rect x="624.00" y="808.00" width="90.00" height="10.00" rx="4.00" ry="4.00" fill="#6a6a6a" />
</g>
</g>
<rect x="279.20" y="740.80" width="460.40" height="94.50" fill="none" stroke="#000" stroke-width="2.00"/>
<clipPath id="ccb"><rect x="280.00" y="842.00" width="460.40" height="94.20"/></clipPath>
<g clip-path="url(#ccb)">
<rect x="280.00" y="842.00" width="461.00" height="95.00" rx="0.00" ry="0.00" fill="#fbfbfb" />
<g filter="url(#b1)">
<rect x="298.00" y="868.00" width="111.00" height="55.00" rx="18.00" ry="18.00" fill="#b4b4b4" />
<rect x="410.00" y="867.00" width="101.00" height="58.00" rx="18.00" ry="18.00" fill="#b4b4b4" />
<rect x="513.00" y="865.00" width="103.00" height="56.00" rx="18.00" ry="18.00" fill="#b4b4b4" />
<rect x="609.00" y="859.00" width="113.00" height="56.00" rx="14.00" ry="14.00" fill="#b4b4b4" />
</g>
<g filter="url(#b3)">
<rect x="301.00" y="874.50" width="105.00" height="41.00" rx="17.00" ry="17.00" fill="#060606" />
<rect x="413.00" y="873.50" width="95.00" height="45.00" rx="15.00" ry="17.00" fill="#060606" />
<rect x="516.00" y="872.00" width="98.00" height="42.50" rx="15.00" ry="17.00" fill="#060606" />
<g transform="rotate(-3.7 665 888)">
<rect x="616.00" y="866.50" width="103.00" height="44.00" rx="9.00" ry="11.00" fill="#060606" />
</g>
<rect x="600.00" y="878.00" width="24.00" height="25.00" rx="0.00" ry="0.00" fill="#060606" />
</g>
</g>
<rect x="280.00" y="842.00" width="460.40" height="94.20" fill="none" stroke="#000" stroke-width="2.00"/>
<clipPath id="cdt"><rect x="293.60" y="1234.70" width="467.20" height="85.30"/></clipPath>
<g clip-path="url(#cdt)">
<rect x="293.00" y="1234.00" width="468.00" height="87.00" rx="0.00" ry="0.00" fill="#f0f0f0" />
<g filter="url(#b4)">
<rect x="298.00" y="1272.00" width="80.00" height="26.00" rx="8.00" ry="8.00" fill="#e2e2e2" />
<rect x="352.00" y="1276.00" width="22.00" height="20.00" rx="6.00" ry="6.00" fill="#d6d6d6" />
<rect x="413.00" y="1226.00" width="96.00" height="100.00" rx="0.00" ry="0.00" fill="#b8b8b8" />
<rect x="415.00" y="1270.00" width="92.00" height="33.00" rx="8.00" ry="8.00" fill="#8c8c8c" />
<rect x="420.00" y="1274.00" width="26.00" height="26.00" rx="8.00" ry="8.00" fill="#747474" />
<rect x="482.00" y="1274.00" width="21.00" height="24.00" rx="6.00" ry="6.00" fill="#7c7c7c" />
<rect x="415.00" y="1303.00" width="92.00" height="23.00" rx="0.00" ry="0.00" fill="#a6a6a6" />
<rect x="537.00" y="1226.00" width="81.00" height="100.00" rx="0.00" ry="0.00" fill="#a2a2a2" />
<rect x="540.00" y="1266.00" width="76.00" height="32.00" rx="10.00" ry="10.00" fill="#6e6e6e" />
<rect x="549.00" y="1270.00" width="20.00" height="27.00" rx="6.00" ry="6.00" fill="#5a5a5a" />
<rect x="587.00" y="1269.00" width="18.00" height="26.00" rx="6.00" ry="6.00" fill="#606060" />
<rect x="540.00" y="1298.00" width="76.00" height="28.00" rx="0.00" ry="0.00" fill="#9a9a9a" />
<rect x="744.00" y="1226.00" width="14.00" height="100.00" rx="0.00" ry="0.00" fill="#bdbdbd" />
</g>
<g filter="url(#b0)">
<rect x="654.00" y="1226.00" width="91.00" height="100.00" rx="0.00" ry="0.00" fill="#060606" />
</g>
<g filter="url(#b2)">
<rect x="678.00" y="1238.00" width="56.00" height="18.00" rx="6.00" ry="6.00" fill="#333333" />
<rect x="684.00" y="1298.00" width="40.00" height="18.00" rx="6.00" ry="6.00" fill="#3a3a3a" />
</g>
</g>
<rect x="293.60" y="1234.70" width="467.20" height="85.30" fill="none" stroke="#000" stroke-width="2.80"/>
<clipPath id="cdb"><rect x="289.70" y="1327.80" width="469.90" height="79.40"/></clipPath>
<g clip-path="url(#cdb)">
<rect x="289.00" y="1327.00" width="471.00" height="81.00" rx="0.00" ry="0.00" fill="#f8f8f8" />
<path d="M292,1390 L525,1398 L760,1404 L760,1409 L292,1409 Z" fill="#ffffff"/>
<g filter="url(#b1)">
<rect x="303.00" y="1341.00" width="448.00" height="47.00" rx="20.00" ry="20.00" fill="#b8b8b8" />
</g>
<g filter="url(#b3)">
<rect x="307.50" y="1345.50" width="117.50" height="37.00" rx="18.00" ry="18.00" fill="#060606" />
<rect x="418.00" y="1349.50" width="116.00" height="32.00" rx="16.00" ry="15.00" fill="#060606" />
<rect x="527.00" y="1351.50" width="115.00" height="33.50" rx="16.00" ry="15.00" fill="#060606" />
<g transform="rotate(-1.3 692 1368)">
<rect x="635.00" y="1350.00" width="111.00" height="34.00" rx="16.00" ry="16.00" fill="#060606" />
</g>
</g>
</g>
<rect x="289.70" y="1327.80" width="469.90" height="79.40" fill="none" stroke="#000" stroke-width="2.00"/>
<text transform="translate(33.64,637.70) scale(1.0921,1)" font-size="42.50" font-weight="bold" fill="#000">(C)</text>
<text transform="translate(100.94,800.60) scale(1.0997,1)" font-size="42.00" font-weight="bold" fill="#000">Alox-15</text>
<text transform="translate(107.08,890.80) scale(1.0899,1)" font-size="42.50" font-weight="bold" fill="#000">Gapdh</text>
<text transform="translate(760.99,798.60) scale(1.1059,1)" font-size="34.80" font-weight="bold" fill="#000">75-kDa</text>
<text transform="translate(771.86,890.30) scale(1.1034,1)" font-size="34.80" font-weight="bold" fill="#000">37-kDa</text>
<text transform="translate(350.00,738.00) scale(1.1,1) rotate(-45)" font-size="43" font-weight="bold">Co</text>
<text transform="translate(438.50,742.00) scale(1.1,1) rotate(-45)" font-size="43" font-weight="bold">REGO</text>
<text transform="translate(532.00,741.50) scale(1.1,1) rotate(-45)" font-size="43" font-weight="bold">AMK</text>
<text transform="translate(668.00,735.50) scale(1.1,1) rotate(-45)" font-size="43" font-weight="bold">R+A</text>
<text transform="translate(51.36,1172.40) scale(1.0813,1)" font-size="42.50" font-weight="bold" fill="#000">(D)</text>
<text transform="translate(121.94,1285.70) scale(1.1041,1)" font-size="42.00" font-weight="bold" fill="#000">Alox-15</text>
<text transform="translate(125.49,1371.50) scale(1.0858,1)" font-size="42.50" font-weight="bold" fill="#000">Gapdh</text>
<text transform="translate(773.41,1287.30) scale(1.0974,1)" font-size="34.80" font-weight="bold" fill="#000">75-kDa</text>
<text transform="translate(769.96,1380.30) scale(1.1034,1)" font-size="34.80" font-weight="bold" fill="#000">37-kDa</text>
<text transform="translate(371.00,1232.50) scale(1.1,1) rotate(-43)" font-size="42" font-weight="bold">Co</text>
<text transform="translate(461.00,1228.30) scale(1.1,1) rotate(-43)" font-size="42" font-weight="bold">REGO</text>
<text transform="translate(582.00,1233.40) scale(1.1,1) rotate(-43)" font-size="42" font-weight="bold">GNT</text>
<text transform="translate(710.00,1228.30) scale(1.1,1) rotate(-43)" font-size="42" font-weight="bold">R+G</text>
</svg>
</body></html>
